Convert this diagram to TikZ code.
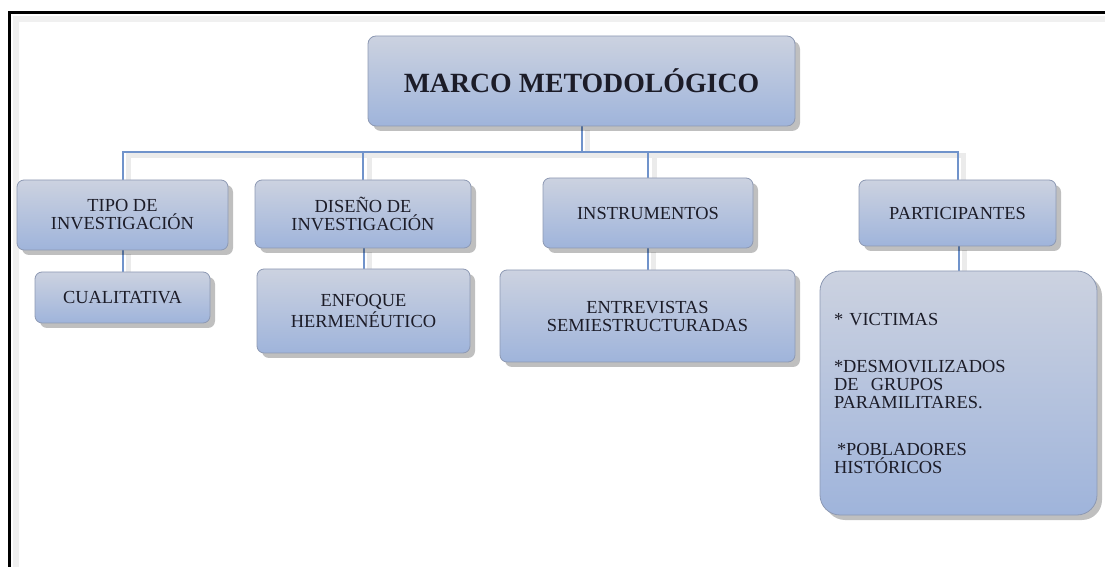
\documentclass[tikz,border=0pt]{standalone}
\usepackage{fontspec}
\setmainfont{Liberation Serif}
\usetikzlibrary{calc,shadows,backgrounds}

\definecolor{boxtop}{HTML}{CCD2E0}
\definecolor{boxbottom}{HTML}{9FB4DB}
\definecolor{boxline}{HTML}{8D99B3}
\definecolor{linkblue}{HTML}{7093CB}
\definecolor{textdark}{HTML}{1C1C28}

\begin{document}
\begin{tikzpicture}[x=0.5pt, y=-0.5pt,
  every node/.style={text=textdark, font=\fontsize{9.2}{9}\selectfont, align=center},
  blk/.style={draw=boxline, line width=0.4pt, rounded corners=3.5pt, top color=boxtop, bottom color=boxbottom,
    drop shadow={shadow xshift=2.5pt, shadow yshift=-2.5pt, opacity=0.25, fill=black}, inner sep=2pt},
  conn/.style={draw=linkblue, line width=1pt},
  connshadow/.style={draw=black!8, line width=2.5pt, transform canvas={xshift=3pt, yshift=-2pt}}]
  \useasboundingbox (0,0) rectangle (1105,567);

  % frame
  \draw[black!6, line width=3pt] (15.5,567) -- (15.5,19.5) -- (1105,19.5);
  \draw[line width=1.5pt] (9.5,567) -- (9.5,12.5) -- (1105,12.5);

  \node[blk, rounded corners=4pt, minimum width=213.5pt, minimum height=45pt, font=\fontsize{13.9}{14}\selectfont\bfseries] (main) at (581.5,81) {MARCO METODOLÓGICO};

  \node[blk, minimum width=105.5pt, minimum height=35pt] (tipo) at (122.5,215) {TIPO DE\\INVESTIGACIÓN};
  \node[blk, minimum width=108pt, minimum height=34pt] (diseno) at (363,214) {DISEÑO DE\\INVESTIGACIÓN};
  \node[blk, minimum width=105pt, minimum height=35pt] (instr) at (648,213) {INSTRUMENTOS};
  \node[blk, minimum width=98.5pt, minimum height=33pt] (part) at (957.5,213) {PARTICIPANTES};

  \node[blk, minimum width=87.5pt, minimum height=25.5pt] (cual) at (122.5,297.5) {CUALITATIVA};
  \node[blk, minimum width=106.5pt, minimum height=42pt] (enfoque) at (363.5,311) {ENFOQUE\\HERMENÉUTICO};
  \node[blk, minimum width=147.5pt, minimum height=46pt] (entrev) at (647.5,316) {ENTREVISTAS\\SEMIESTRUCTURADAS};
  \node[blk, rounded corners=10pt, minimum width=138.5pt, minimum height=122pt, text width=124.5pt, align=left, inner xsep=7pt] (lista) at (958.5,393)
    {* VICTIMAS\\[14.5pt]
     *DESMOVILIZADOS\\ DE~~GRUPOS\\ PARAMILITARES.\\[14.5pt]
     \hspace*{1.5pt}*POBLADORES\\ HISTÓRICOS};

  \coordinate (bus) at (580,152);

  % connectors behind the boxes
  \begin{scope}[on background layer]
    \foreach \s in {connshadow,conn} {
      \foreach \c in {tipo,diseno,instr,part}
        \draw[\s] (main.south) -- (main.south |- bus) -| (\c.north);
      \foreach \a/\b in {tipo/cual,diseno/enfoque,instr/entrev,part/lista}
        \draw[\s] (\b.north |- \a.south) -- (\b.north);
    }
  \end{scope}
\end{tikzpicture}
\end{document}
